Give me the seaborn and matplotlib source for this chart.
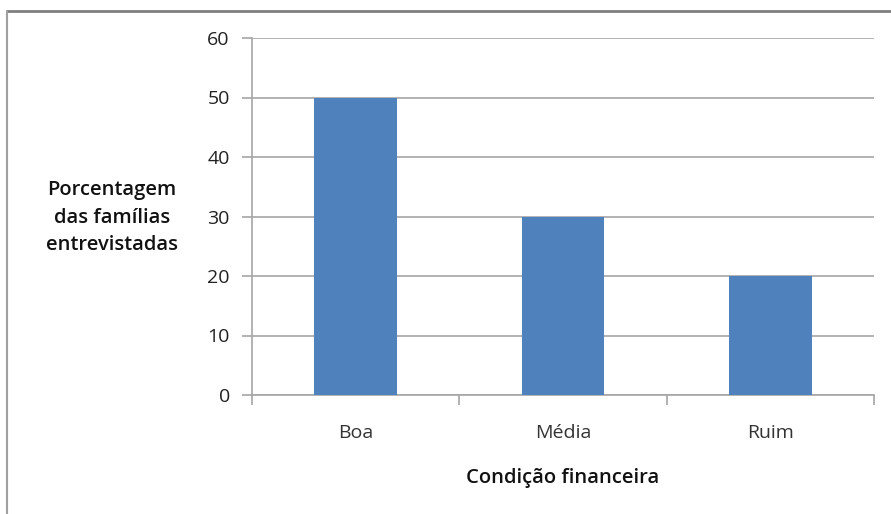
import matplotlib
matplotlib.use("Agg")
import matplotlib.pyplot as plt
from matplotlib.lines import Line2D
import seaborn as sns
import pandas as pd

categories = ["Boa", "Média", "Ruim"]
values = [50, 30, 20]
y_ticks = [0, 10, 20, 30, 40, 50, 60]
x_label = "Condição financeira"
y_label = "Porcentagem\ndas famílias\nentrevistadas"

sns.set_theme(style="white")
plt.rcParams['font.family'] = ['Open Sans', 'DejaVu Sans']

df = pd.DataFrame({"cat": categories, "val": values})

fig = plt.figure(figsize=(8.91, 5.14), dpi=100)
ax = fig.add_axes([252/891, 1-395/514, (874-252)/891, (395-38)/514])

sns.barplot(data=df, x="cat", y="val", color="#4F81BD", saturation=1,
            width=0.4, ax=ax, zorder=3, linewidth=0, edgecolor="none")

ax.set_ylim(0, 60)
ax.set_yticks(y_ticks)
ax.set_xlim(-0.5, len(categories) - 0.5)
ax.yaxis.grid(True, color="#A6A6A6", linewidth=1.2, zorder=0)
ax.xaxis.grid(False)
for s in ["top", "right"]:
    ax.spines[s].set_visible(False)
for s in ["left", "bottom"]:
    ax.spines[s].set_color("#A6A6A6")
    ax.spines[s].set_linewidth(1.2)

ax.tick_params(axis="y", which="major", length=7, width=1.2, color="#A6A6A6",
               labelsize=14, pad=9, left=True, labelcolor="#222222")
ax.set_xticks(range(len(categories)))
ax.set_xticklabels(categories)
ax.tick_params(axis="x", which="major", length=0, labelsize=14, pad=21,
               labelcolor="#333333")
ax.set_xticks([i + 0.5 for i in range(-1, len(categories))], minor=True)
ax.tick_params(axis="x", which="minor", length=7, width=1.2, color="#A6A6A6",
               bottom=True)

ax.set_xlabel("")
ax.set_ylabel("")
fig.text(563/891, 1-478/514, x_label, ha="center", va="center",
         fontsize=14.5, fontweight="semibold", color="#111111")
fig.text(112/891, 1-218/514, y_label, ha="center", va="center",
         fontsize=14.5, fontweight="semibold", color="#111111", linespacing=1.5)

fig.add_artist(Line2D([7/891, 1.0], [1-11/514, 1-11/514], transform=fig.transFigure,
                      color="#7F7F7F", linewidth=2))
fig.add_artist(Line2D([7/891, 7/891], [1-11/514, 0], transform=fig.transFigure,
                      color="#A0A0A0", linewidth=1.5))

fig.savefig("out.png", dpi=100)
